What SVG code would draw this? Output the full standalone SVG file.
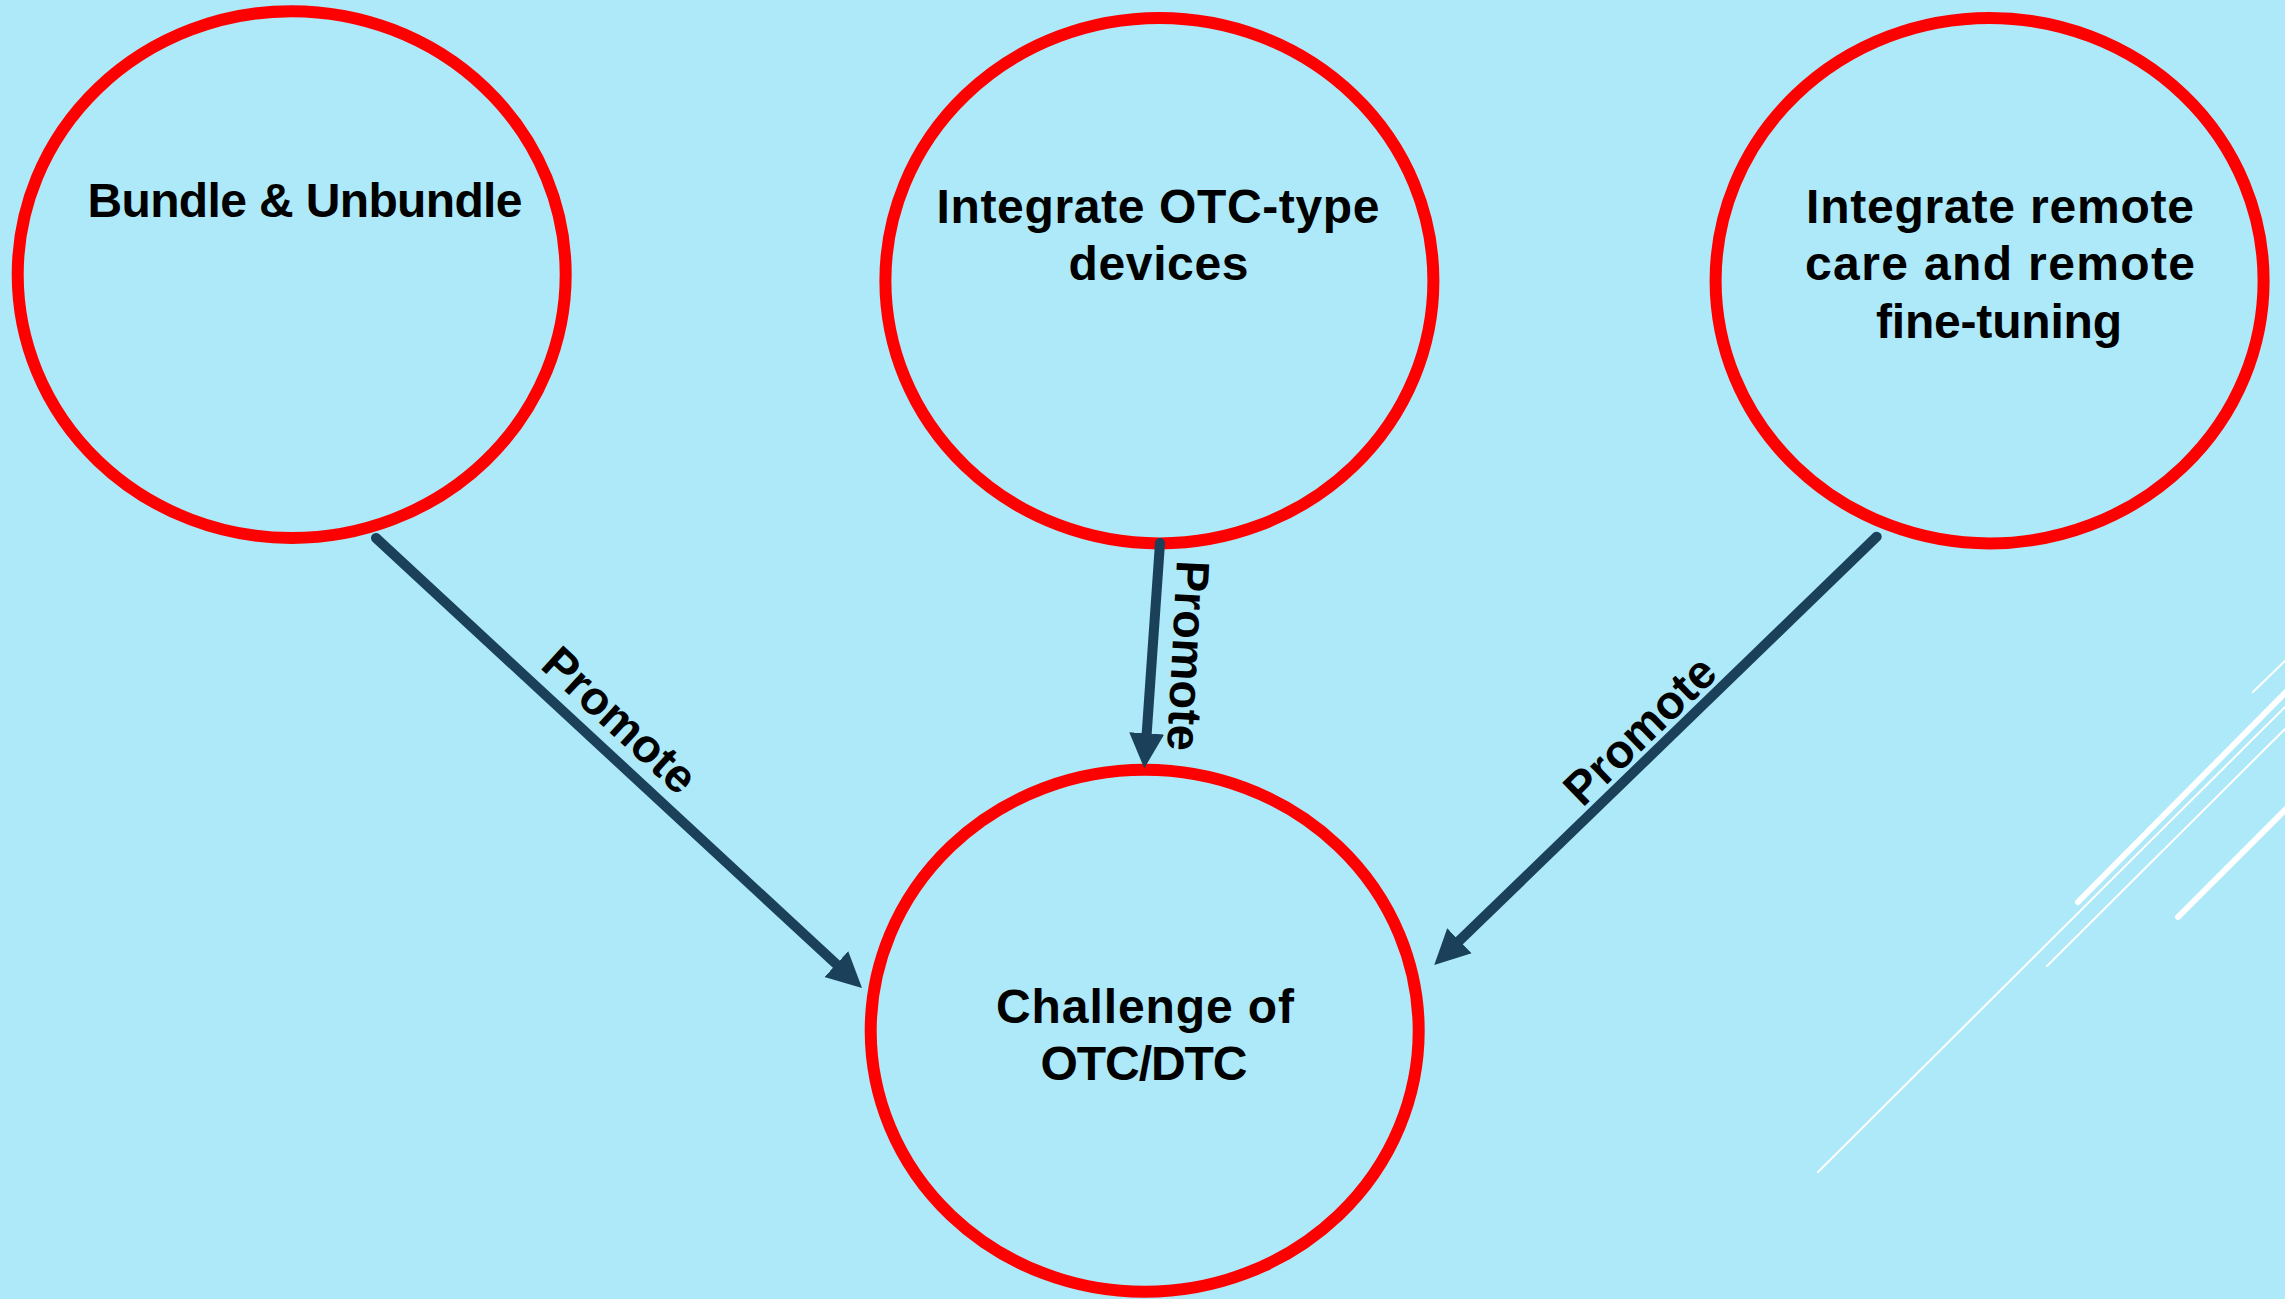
<svg xmlns="http://www.w3.org/2000/svg" width="2285" height="1299" viewBox="0 0 2285 1299">
  <defs>
    <style>
      .node { fill: none; stroke: #FF0000; stroke-width: 12; }
      .label { font-family: "Liberation Sans", Arial, sans-serif; font-weight: bold; font-size: 48px; fill: #000000; text-anchor: middle; }
      .edge-label { font-family: "Liberation Sans", Arial, sans-serif; font-weight: bold; font-size: 47px; fill: #000000; text-anchor: middle; }
      .edge { stroke: #1A4159; stroke-width: 10; stroke-linecap: round; fill: none; marker-end: url(#arrow); }
      .deco { stroke: #FFFFFF; fill: none; stroke-linecap: round; }
    </style>
    <marker id="arrow" markerUnits="userSpaceOnUse" viewBox="0 -18 36 36" refX="0" refY="0" markerWidth="36" markerHeight="36" orient="auto">
      <path d="M0,-17.5 L35,0 L0,17.5 Z" fill="#1A4159"/>
    </marker>
  </defs>

  <rect x="0" y="0" width="2285" height="1299" fill="#ADE9F8"/>

  <!-- decorative background lines -->
  <g id="decoration">
    <line class="deco" x1="2253" y1="692" x2="2292" y2="654" stroke-width="2"/>
    <line class="deco" x1="2078" y1="902" x2="2292" y2="686" stroke-width="6"/>
    <line class="deco" x1="1818" y1="1172" x2="2292" y2="700" stroke-width="2"/>
    <line class="deco" x1="2047" y1="966" x2="2292" y2="722" stroke-width="2"/>
    <line class="deco" x1="2178" y1="917" x2="2292" y2="803" stroke-width="6"/>
  </g>

  <g id="node-bundle">
    <ellipse class="node" cx="291.7" cy="274.6" rx="274" ry="263.4"/>
    <text class="label" x="305" y="217" textLength="435">Bundle &amp; Unbundle</text>
  </g>

  <g id="node-otc-devices">
    <ellipse class="node" cx="1159.4" cy="280.7" rx="274" ry="262.7"/>
    <text class="label" x="1158" y="223" textLength="443">Integrate OTC-type</text>
    <text class="label" x="1158.5" y="279.6" textLength="180">devices</text>
  </g>

  <g id="node-remote">
    <ellipse class="node" cx="1989.6" cy="280.7" rx="274" ry="262.7"/>
    <text class="label" x="2000" y="223" textLength="388">Integrate remote</text>
    <text class="label" x="2000" y="280" textLength="390">care and remote</text>
    <text class="label" x="1999" y="337.5" textLength="246">fine-tuning</text>
  </g>

  <g id="node-challenge">
    <ellipse class="node" cx="1144.7" cy="1030.8" rx="274" ry="261"/>
    <text class="label" x="1145" y="1023.4" textLength="298">Challenge of</text>
    <text class="label" x="1144" y="1079.8" textLength="207">OTC/DTC</text>
  </g>

  <g id="connectors">
    <line class="edge" x1="376" y1="538" x2="836.3" y2="964.2"/>
    <text class="edge-label" transform="translate(609,732) rotate(42.7)">Promote</text>

    <line class="edge" x1="1160" y1="543" x2="1146.7" y2="733.4"/>
    <text class="edge-label" transform="translate(1172,655) rotate(93)">Promote</text>

    <line class="edge" x1="1876.7" y1="536.7" x2="1459.4" y2="940.7"/>
    <text class="edge-label" transform="translate(1651,742) rotate(-44.1)">Promote</text>
  </g>
</svg>
